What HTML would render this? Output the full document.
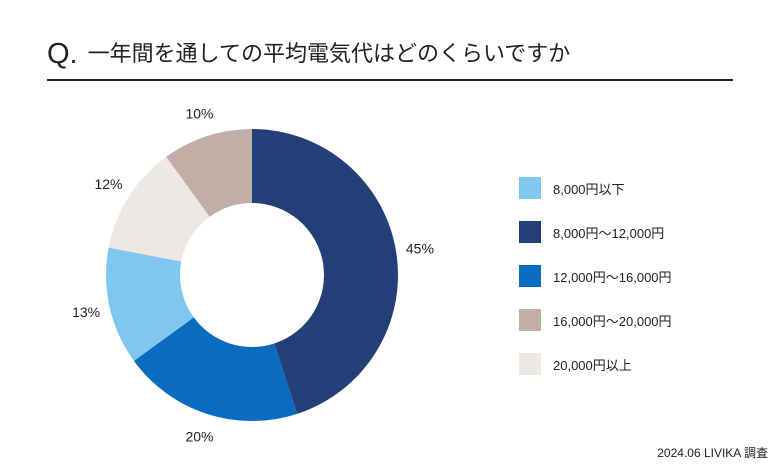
<!DOCTYPE html>
<html><head><meta charset="utf-8"><style>
body{margin:0;width:780px;height:468px;background:#fff;font-family:"Liberation Sans","Noto Sans CJK JP",sans-serif;overflow:hidden;position:relative;color:#222}
.title{position:absolute;left:47px;top:36px;font-size:22px;white-space:nowrap}
.title .q{font-size:29px;margin-right:10px;vertical-align:-2px}
.rule{position:absolute;left:47px;top:79px;width:686px;height:2px;background:#222}
.leg{position:absolute;left:519px;font-size:13px;display:flex;align-items:center}
.leg span.sw{width:22px;height:22px;margin-right:12px;display:inline-block}
.foot{position:absolute;right:12px;top:444px;font-size:12px}
</style></head><body>
<div class="title"><span class="q">Q.</span>一年間を通しての平均電気代はどのくらいですか</div>
<div class="rule"></div>
<svg id="chart" width="780" height="468" style="position:absolute;left:0;top:0"></svg>
<div id="legend"></div>
<div class="foot">2024.06 LIVIKA 調査</div>
<script>
const categories=["8,000円〜12,000円","12,000円〜16,000円","8,000円以下","20,000円以上","16,000円〜20,000円"];
const values=[45,20,13,12,10];
const colors=["#243f78","#0a6cc0","#80c7ef","#ede8e4","#c1aea6"];
const legendOrder=["8,000円以下","8,000円〜12,000円","12,000円〜16,000円","16,000円〜20,000円","20,000円以上"];
const ns="http://www.w3.org/2000/svg",svg=document.getElementById('chart');
const cx=252,cy=275,R=146,r=72,LR=170;
const total=values.reduce((a,b)=>a+b,0);
function pt(rad,a){return [cx+rad*Math.sin(a),cy-rad*Math.cos(a)];}
let acc=0;
values.forEach((v,i)=>{
 const a0=acc/total*2*Math.PI;acc+=v;const a1=acc/total*2*Math.PI;
 const lg=(a1-a0)>Math.PI?1:0;
 const [x0,y0]=pt(R,a0),[x1,y1]=pt(R,a1),[x2,y2]=pt(r,a1),[x3,y3]=pt(r,a0);
 const p=document.createElementNS(ns,'path');
 p.setAttribute('d',`M${x0},${y0}A${R},${R} 0 ${lg} 1 ${x1},${y1}L${x2},${y2}A${r},${r} 0 ${lg} 0 ${x3},${y3}Z`);
 p.setAttribute('fill',colors[i]);
 
 
 svg.appendChild(p);
 const [lx,ly]=pt(LR,(a0+a1)/2);
 const t=document.createElementNS(ns,'text');
 t.setAttribute('x',lx);t.setAttribute('y',ly+5);t.setAttribute('text-anchor','middle');
 t.setAttribute('font-size','14');t.setAttribute('fill','#222');
 t.textContent=v+'%';
 
 
 svg.appendChild(t);
});
const lg=document.getElementById('legend');
legendOrder.forEach((c,i)=>{
 const d=document.createElement('div');d.className='leg';d.style.top=(177+i*44)+'px';
 d.innerHTML='<span class="sw" style="background:'+colors[categories.indexOf(c)]+'"></span>'+c;
 
 
 lg.appendChild(d);
});
</script>
</body></html>
